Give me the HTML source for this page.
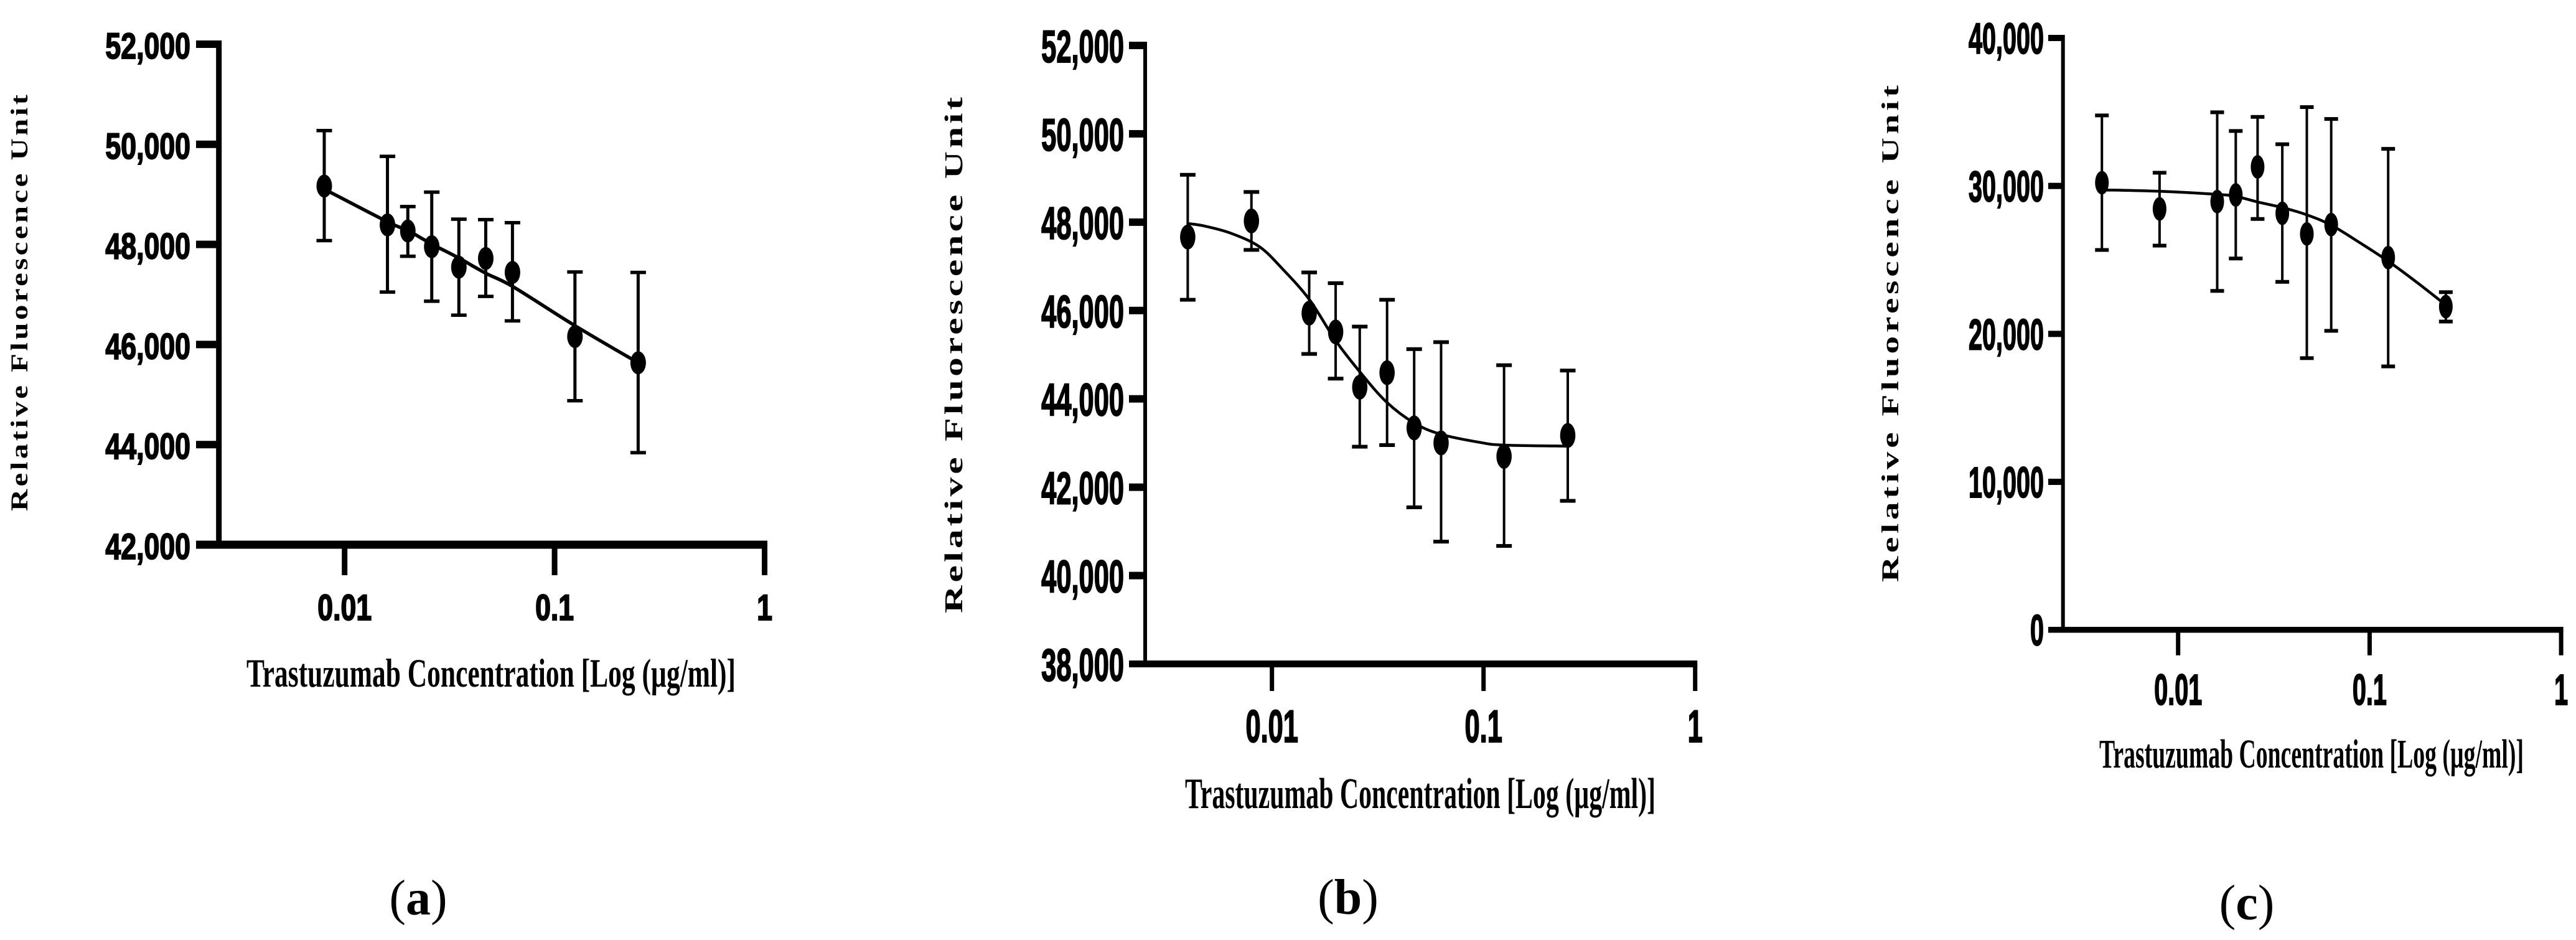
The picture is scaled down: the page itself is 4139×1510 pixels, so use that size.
<!DOCTYPE html>
<html lang="en">
<head>
<meta charset="utf-8">
<title>Trastuzumab dose-response curves</title>
<style>
html,body{margin:0;padding:0;background:#fff;width:4139px;height:1510px;overflow:hidden}
svg{display:block}
.tick{font-family:"Liberation Sans",Arial,sans-serif;font-weight:700;fill:#000;stroke:#000;stroke-width:2px}
.title{font-family:"Liberation Serif","Times New Roman",serif;font-weight:700;fill:#000}
.cap{font-family:"Liberation Serif","Times New Roman",serif;font-size:80px;fill:#000}
</style>
</head>
<body>
<svg id="figure" xmlns="http://www.w3.org/2000/svg" width="4139" height="1510" viewBox="0 0 4139 1510"></svg>
<script>
// Panel (a) data
const concA = [0.008, 0.016, 0.02, 0.026, 0.035, 0.047, 0.063, 0.125, 0.25];
const meanA = [49166, 48390, 48268, 47954, 47545, 47719, 47440, 46158, 45635];
const upperA = [50274, 49759, 48756, 49044, 48504, 48495, 48434, 47449, 47440];
const lowerA = [48076, 47048, 47763, 46865, 46586, 46961, 46472, 44877, 43839];
const fitConcA = [0.008, 0.016, 0.02, 0.026, 0.035, 0.047, 0.063, 0.125, 0.25];
const fitValA = [49105, 48451, 48277, 48007, 47728, 47423, 47161, 46376, 45635];
const yTicksA = [42000, 44000, 46000, 48000, 50000, 52000];
const yLabelsA = ["42,000", "44,000", "46,000", "48,000", "50,000", "52,000"];

// Panel (b) data
const concB = [0.004, 0.008, 0.015, 0.02, 0.026, 0.035, 0.047, 0.063, 0.125, 0.25];
const meanB = [47663, 48028, 45940, 45515, 44264, 44592, 43342, 43002, 42698, 43172];
const upperB = [49072, 48683, 46862, 46619, 45636, 46243, 45126, 45284, 44762, 44641];
const lowerB = [46243, 47372, 45017, 44458, 42917, 42953, 41545, 40768, 40671, 41691];
const fitConcB = [0.004, 0.00473, 0.00634, 0.00869, 0.01114, 0.015, 0.02005, 0.0263, 0.0348, 0.0469, 0.0628, 0.0973, 0.125, 0.25];
const fitValB = [47968, 47919, 47756, 47450, 46957, 46252, 45312, 44585, 43927, 43457, 43198, 43010, 42954, 42930];
const yTicksB = [38000, 40000, 42000, 44000, 46000, 48000, 50000, 52000];
const yLabelsB = ["38,000", "40,000", "42,000", "44,000", "46,000", "48,000", "50,000", "52,000"];

// Panel (c) data
const concC = [0.004, 0.008, 0.016, 0.02, 0.026, 0.035, 0.047, 0.063, 0.125, 0.25];
const meanC = [30218, 28450, 28943, 29390, 31286, 28151, 26757, 27384, 25154, 21844];
const upperC = [34766, 30892, 34977, 33714, 34666, 32819, 35327, 34526, 32506, 22820];
const lowerC = [25672, 25966, 22905, 25095, 27767, 23517, 18361, 20207, 17803, 20834];
const fitConcC = [0.004, 0.008, 0.016, 0.02, 0.026, 0.035, 0.047, 0.063, 0.0897, 0.125, 0.178, 0.25];
const fitValC = [29730, 29640, 29430, 29293, 28917, 28540, 28046, 27350, 26130, 24911, 23447, 21950];
const yTicksC = [0, 10000, 20000, 30000, 40000];
const yLabelsC = ["0", "10,000", "20,000", "30,000", "40,000"];

// Shared x axis
const xTicks = [0.01, 0.1, 1];
const xLabels = ["0.01", "0.1", "1"];

const NS = "http://www.w3.org/2000/svg";
const fig = document.getElementById("figure");

const panels = [
  { key: "a", conc: concA, mean: meanA, upper: upperA, lower: lowerA, fitC: fitConcA, fitV: fitValA, yt: yTicksA, yl: yLabelsA,
    axisX: 351.7, axisW: 9, axisBottom: 875, axisTop: 71, xAxisT: 13, tickT: 12, tickL: 315, xTickW: 9, xTickEnd: 924,
    x001: 553.7, decade: 337.4,
    labelR: 306, labelDy: 23, labelFont: 58, labelSx: 0.77, xLabelBase: 996,
    rx: 12.5, ry: 18.5, errW: 5, capW: 25, capT: 5.5, curveW: 5.5,
    titleX: 396, titleY: 1103, titleFont: 65, titleLen: 786,
    yTitleX: 44, yTitleBottom: 821, yTitleLen: 669, yTitleFont: 39, yTitleSx: 1.25,
    capCx: 672, capY: 1469 },
  { key: "b", conc: concB, mean: meanB, upper: upperB, lower: lowerB, fitC: fitConcB, fitV: fitValB, yt: yTicksB, yl: yLabelsB,
    axisX: 1840, axisW: 6, axisBottom: 1066.5, axisTop: 73, xAxisT: 11, tickT: 12, tickL: 1814, xTickW: 7, xTickEnd: 1110,
    x001: 2043.7, decade: 340,
    labelR: 1806, labelDy: 27, labelFont: 73, labelSx: 0.595, xLabelBase: 1192,
    rx: 12.3, ry: 20, errW: 4, capW: 25, capT: 6, curveW: 4.5,
    titleX: 1904, titleY: 1298, titleFont: 70, titleLen: 756,
    yTitleX: 1546, yTitleBottom: 985, yTitleLen: 829, yTitleFont: 41, yTitleSx: 1.5,
    capCx: 2166, capY: 1468 },
  { key: "c", conc: concC, mean: meanC, upper: upperC, lower: lowerC, fitC: fitConcC, fitV: fitValC, yt: yTicksC, yl: yLabelsC,
    axisX: 3314.7, axisW: 6, axisBottom: 1011.7, axisTop: 61, xAxisT: 9.5, tickT: 10, tickL: 3291, xTickW: 7, xTickEnd: 1052.7,
    x001: 3499.7, decade: 307.7,
    labelR: 3284, labelDy: 25, labelFont: 70, labelSx: 0.565, xLabelBase: 1132,
    rx: 11, ry: 19, errW: 4, capW: 22, capT: 6, curveW: 4.5,
    titleX: 3373, titleY: 1233, titleFont: 66, titleLen: 682,
    yTitleX: 3050, yTitleBottom: 935, yTitleLen: 798, yTitleFont: 39.4, yTitleSx: 1.45,
    capCx: 3610, capY: 1477 }
];

function make(tag, parent) {
  const el = document.createElementNS(NS, tag);
  parent.appendChild(el);
  return el;
}
function rect(parent, x, y, w, h) {
  const el = make("rect", parent);
  el.setAttribute("x", x);
  el.setAttribute("y", y);
  el.setAttribute("width", w);
  el.setAttribute("height", h);
  el.setAttribute("fill", "#000");
  return el;
}

panels.forEach(function (p) {
  const yMin = p.yt[0];
  const yMax = p.yt[p.yt.length - 1];
  const sx = function (v) { return p.x001 + (Math.log10(v) + 2) * p.decade; };
  const sy = function (v) { return p.axisBottom - (v - yMin) / (yMax - yMin) * (p.axisBottom - p.axisTop); };

  const g = make("g", fig);
  
  

  // Y axis line
  const yAxis = rect(g, p.axisX - p.axisW / 2, p.axisTop - p.tickT / 2, p.axisW, p.axisBottom - p.axisTop + p.tickT / 2);
  
  

  // X axis line
  const xEnd = sx(1) + p.xTickW / 2;
  const xAxis = rect(g, p.tickL, p.axisBottom - p.xAxisT / 2, xEnd - p.tickL, p.xAxisT);
  
  

  // Y ticks and labels
  p.yt.forEach(function (v, i) {
    if (i > 0) {
      const t = rect(g, p.tickL, sy(v) - p.tickT / 2, p.axisX - p.tickL, p.tickT);
      
      
    }
    const lab = make("text", g);
    
    
    lab.setAttribute("class", "tick");
    lab.setAttribute("text-anchor", "end");
    lab.setAttribute("font-size", p.labelFont);
    lab.setAttribute("transform", "translate(" + p.labelR + "," + (sy(v) + p.labelDy) + ") scale(" + p.labelSx + ",1)");
    lab.textContent = p.yl[i];
  });

  // X ticks and labels
  xTicks.forEach(function (v, i) {
    const t = rect(g, sx(v) - p.xTickW / 2, p.axisBottom, p.xTickW, p.xTickEnd - p.axisBottom);
    
    
    const lab = make("text", g);
    
    
    lab.setAttribute("class", "tick");
    lab.setAttribute("text-anchor", "middle");
    lab.setAttribute("font-size", p.labelFont);
    lab.setAttribute("transform", "translate(" + sx(v) + "," + p.xLabelBase + ") scale(" + p.labelSx + ",1)");
    lab.textContent = xLabels[i];
  });

  // Fitted curve (Catmull-Rom through values)
  const pts = p.fitC.map(function (c, i) { return [sx(c), sy(p.fitV[i])]; });
  let d = "M" + pts[0][0] + " " + pts[0][1];
  for (let i = 0; i < pts.length - 1; i++) {
    const p0 = pts[Math.max(i - 1, 0)];
    const p1 = pts[i];
    const p2 = pts[i + 1];
    const p3 = pts[Math.min(i + 2, pts.length - 1)];
    d += " C" + (p1[0] + (p2[0] - p0[0]) / 6) + " " + (p1[1] + (p2[1] - p0[1]) / 6) + " " +
         (p2[0] - (p3[0] - p1[0]) / 6) + " " + (p2[1] - (p3[1] - p1[1]) / 6) + " " + p2[0] + " " + p2[1];
  }
  const curve = make("path", g);
  
  
  curve.setAttribute("d", d);
  curve.setAttribute("fill", "none");
  curve.setAttribute("stroke", "#000");
  curve.setAttribute("stroke-width", p.curveW);

  // Error bars and markers
  p.conc.forEach(function (c, i) {
    const cx = sx(c);
    const top = sy(p.upper[i]);
    const bot = sy(p.lower[i]);
    const stem = rect(g, cx - p.errW / 2, top, p.errW, bot - top);
    
    
    const capTop = rect(g, cx - p.capW / 2, top - p.capT / 2, p.capW, p.capT);
    
    
    const capBot = rect(g, cx - p.capW / 2, bot - p.capT / 2, p.capW, p.capT);
    
    
    const m = make("ellipse", g);
    
    
    m.setAttribute("cx", cx);
    m.setAttribute("cy", sy(p.mean[i]));
    m.setAttribute("rx", p.rx);
    m.setAttribute("ry", p.ry);
    m.setAttribute("fill", "#000");
  });

  // X axis title
  const xt = make("text", g);
  
  
  xt.setAttribute("class", "title");
  xt.setAttribute("x", p.titleX);
  xt.setAttribute("y", p.titleY);
  xt.setAttribute("font-size", p.titleFont);
  xt.setAttribute("textLength", p.titleLen);
  xt.setAttribute("lengthAdjust", "spacingAndGlyphs");
  xt.textContent = "Trastuzumab Concentration [Log (\u00B5g/ml)]";

  // Y axis title
  const yt = make("text", g);
  
  
  yt.setAttribute("class", "title");
  yt.setAttribute("font-size", p.yTitleFont);
  yt.setAttribute("transform", "translate(" + p.yTitleX + "," + p.yTitleBottom + ") rotate(-90) scale(" + p.yTitleSx + ",1)");
  yt.setAttribute("textLength", p.yTitleLen / p.yTitleSx);
  yt.setAttribute("lengthAdjust", "spacing");
  yt.textContent = "Relative Fluorescence Unit";

  // Panel caption
  const cap = make("text", g);
  
  
  cap.setAttribute("class", "cap");
  cap.setAttribute("text-anchor", "middle");
  cap.setAttribute("x", p.capCx);
  cap.setAttribute("y", p.capY);
  const a = make("tspan", cap);
  a.textContent = "(";
  const b = make("tspan", cap);
  b.setAttribute("font-weight", "700");
  b.textContent = p.key;
  const c2 = make("tspan", cap);
  c2.textContent = ")";
});
</script>
</body>
</html>
